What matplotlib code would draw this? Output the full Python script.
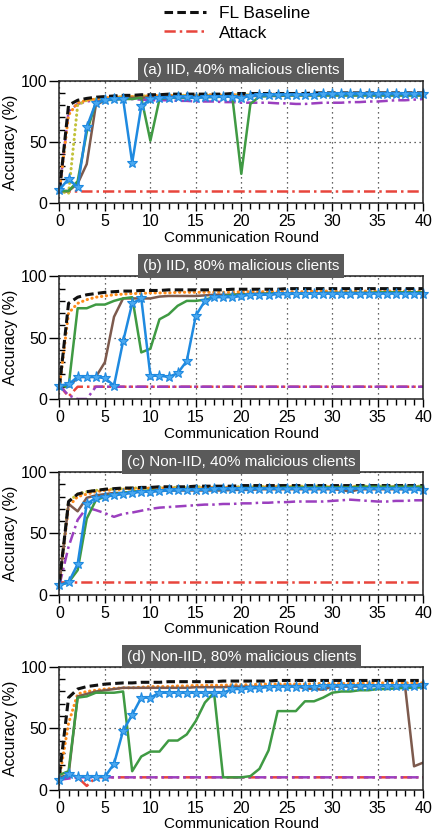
import matplotlib
matplotlib.use("Agg")
import matplotlib.pyplot as plt
from matplotlib.lines import Line2D

plt.rcParams['font.family'] = ['Liberation Sans', 'DejaVu Sans']

rounds = list(range(41))

panel_titles = [
    "(a) IID, 40% malicious clients",
    "(b) IID, 80% malicious clients",
    "(c) Non-IID, 40% malicious clients",
    "(d) Non-IID, 80% malicious clients",
]
legend_labels = ["FL Baseline", "Attack"]

# ---- (a) IID, 40% malicious ----
base_a = [10, 80, 84, 85.5, 86.5, 87, 87.5, 88, 88, 88.5, 88.5, 88.5, 89, 89, 89, 89, 89, 89, 89, 89.5,
          89.5, 89.5, 89.5, 89.5, 89.5, 89.5, 89.5, 89.5, 90, 90, 90, 90, 90, 90, 90, 90, 90, 90, 90, 90, 90]
attack_a = [10, 10, 10, 10, 10, 10, 10, 10, 10, 10, 10, 10, 10, 10, 10, 10, 10, 10, 10, 10,
            10, 10, 10, 10, 10, 10, 10, 10, 10, 10, 10, 10, 10, 10, 10, 10, 10, 10, 10, 10, 10]
purple_a = [10, 75, 81, 83, 84, 84.5, 85, 85, 85, 84.5, 84, 84, 84, 83.5, 83.5, 83, 83, 83, 82.5, 82.5,
            82, 82, 82, 82, 81.5, 81.5, 81, 81, 81.5, 82, 82, 82, 82.5, 82.5, 83, 83, 83.5, 84, 84, 84.5, 85]
orange_a = [10, 72, 82, 84, 85, 86, 86.5, 87, 87, 87.5, 87.5, 88, 88, 88, 88, 88, 88.5, 88.5, 88.5, 88.5,
            88.5, 88.5, 88.5, 89, 89, 89, 89, 89, 89, 89, 89, 89, 89, 89, 89, 89, 89, 89, 89, 89, 89]
olive_a = [10, 8, 80, 84, 85, 86, 86.5, 87, 87, 87.5, 87.5, 87.5, 88, 88, 88, 88, 88, 88, 88, 88.5,
           88.5, 88.5, 88.5, 88.5, 88.5, 88.5, 88.5, 88.5, 88.5, 88.5, 88.5, 88.5, 88.5, 88.5, 88.5, 88.5, 88.5, 88.5, 88.5, 88.5, 88.5]
brown_a = [10, 10, 16, 32, 80, 84, 85, 85.5, 86, 86, 86.5, 86.5, 87, 87, 87, 87, 87, 87, 87, 87,
           87.5, 87.5, 87.5, 87.5, 87.5, 88, 88, 88, 88, 88, 88, 88, 88, 88, 88, 88, 88, 88, 88, 88, 88]
green_a = [10, 10, 18, 58, 82, 84, 84.5, 85, 85, 86, 51, 85, 86, 86, 86, 86, 86.5, 86.5, 87, 87.5,
           24, 81, 87, 87.5, 88, 88, 88, 88, 88, 88, 88, 88, 88, 88, 88, 88, 88, 88, 88, 88, 88]
blue_a = [11, 20, 13, 62, 82, 84, 85, 85, 33, 79, 85, 86, 86, 86.5, 86.5, 86, 86.5, 87, 87, 87,
          86, 87.5, 88, 88, 88.5, 88.5, 88.5, 88.5, 88.5, 89, 89, 89, 89, 89, 89, 89, 89, 89, 89, 89, 89]

# ---- (b) IID, 80% malicious ----
base_b = [10, 78, 83, 85, 86, 87, 87.5, 88, 88, 88.5, 88.5, 88.5, 89, 89, 89, 89, 89, 89, 89, 89.5,
          89.5, 89.5, 89.5, 89.5, 89.5, 90, 90, 90, 90, 90, 90, 90, 90, 90, 90, 90, 90, 90, 90, 90, 90]
attack_b = [11, 2, 10, 10, 10, 10, 10, 10, 10, 10, 10, 10, 10, 10, 10, 10, 10, 10, 10, 10,
            10, 10, 10, 10, 10, 10, 10, 10, 10, 10, 10, 10, 10, 10, 10, 10, 10, 10, 10, 10, 10]
purple_b = [11, 3, 0, 0, 10, 10, 10, 10, 10, 10, 10, 10, 10, 10, 10, 10, 10, 10, 10, 10,
            10, 10, 10, 10, 10, 10, 10, 10, 10, 10, 10, 10, 10, 10, 10, 10, 10, 10, 10, 10, 10]
orange_b = [10, 70, 78, 81, 83, 84, 85, 85.5, 86, 86, 86.5, 86.5, 86.5, 87, 87, 87, 87, 87, 87, 87,
            87.5, 87.5, 87.5, 87.5, 87.5, 87.5, 87.5, 87.5, 88, 88, 88, 88, 88, 88, 88, 88, 88, 88, 88, 88, 88]
brown_b = [11, 10, 18, 18, 18, 30, 67, 82, 82, 82, 82, 83.5, 84, 84, 84, 84, 84.5, 85, 85, 85,
           85.5, 85.5, 86, 86, 86, 86, 86, 86, 86, 86.5, 86.5, 86.5, 86.5, 86.5, 86.5, 86.5, 87, 87, 87, 87, 87]
green_b = [11, 10, 74, 74, 77, 77, 80, 82, 83, 38, 41, 65, 69, 76, 80, 80, 81, 83, 84, 85,
           85, 85.5, 85.5, 86, 86, 86, 86, 86, 86, 86.5, 86.5, 86.5, 86.5, 86.5, 86.5, 87, 87, 87, 87, 87, 87]
blue_b = [11, 12, 18, 18, 18, 17, 11, 47, 78, 82, 19, 19, 18, 21, 31, 68, 80, 83, 83, 83,
          84, 85, 85, 85, 85.5, 85.5, 86, 86, 86, 86, 86, 86, 86, 86, 86, 86, 86, 86, 86, 86, 86]

# ---- (c) Non-IID, 40% malicious ----
base_c = [10, 76, 82, 84, 85, 86, 86.5, 87, 87, 87.5, 87.5, 88, 88, 88, 88, 88.5, 88.5, 88.5, 88.5, 88.5,
          89, 89, 89, 89, 89, 89, 89, 89, 89, 89, 89, 89, 89, 89, 89, 89, 89, 89, 89, 89, 89]
attack_c = [10, 10, 10, 10, 10, 10, 10, 10, 10, 10, 10, 10, 10, 10, 10, 10, 10, 10, 10, 10,
            10, 10, 10, 10, 10, 10, 10, 10, 10, 10, 10, 10, 10, 10, 10, 10, 10, 10, 10, 10, 10]
purple_c = [8, 39, 61, 71, 69, 66.5, 63.5, 66, 67, 68.5, 70, 71, 71.5, 72, 72.5, 73, 73.5, 73.5, 74, 74,
            74.5, 74.5, 75, 75, 75.5, 75.5, 76, 76, 76, 76, 76.5, 77, 77.5, 77, 76.5, 76, 76, 76.5, 76.5, 77, 77]
orange_c = [10, 72, 80, 82, 84, 85, 85.5, 86, 86.5, 86.5, 87, 87, 87, 87, 87, 87, 87.5, 87.5, 87.5, 87.5,
            87.5, 87.5, 88, 88, 88, 88, 88, 88, 88, 88, 88, 88, 88, 88, 88, 88, 88, 88, 88, 88, 88]
olive_c = [10, 76, 82, 84, 85, 86, 86, 86.5, 87, 87, 87, 87.5, 87.5, 87.5, 87.5, 88, 88, 88, 88, 88,
           88, 88, 88, 88.5, 88.5, 88.5, 88.5, 88.5, 88.5, 88.5, 88.5, 88.5, 88.5, 88.5, 88.5, 88.5, 88.5, 88.5, 88.5, 88.5, 88.5]
brown_c = [10, 74, 68, 79, 81, 82, 83, 83, 84, 84, 84.5, 84.5, 85, 85, 85, 85, 85, 85, 85, 85.5,
           85.5, 85.5, 86, 86, 86, 86, 86, 86, 86, 86, 86, 85.5, 84, 86, 86, 86, 86, 86, 86, 86, 86]
green_c = [8, 10, 20, 62, 77, 80, 82, 83, 84, 84.5, 85, 85, 85.5, 85.5, 86, 86, 86, 86, 86.5, 86.5,
           87, 87, 87, 87, 87, 87.5, 87.5, 87.5, 87.5, 87.5, 87.5, 87.5, 87.5, 88, 88, 88, 88, 88, 88, 88, 88]
blue_c = [8, 10, 25, 74, 79, 80, 81, 82, 83, 84, 84, 84.5, 85, 85, 85.5, 85.5, 85.5, 86, 86, 86,
          86, 86, 86.5, 86.5, 86.5, 86.5, 86.5, 86.5, 86.5, 86.5, 86.5, 86.5, 86.5, 86.5, 86.5, 86.5, 86.5, 86.5, 86, 86, 85]

# ---- (d) Non-IID, 80% malicious ----
base_d = [12, 75, 82, 84, 85, 86, 86.5, 87, 87, 87.5, 87.5, 87.5, 88, 88, 88, 88, 88, 88, 88.5, 88.5,
          88.5, 88.5, 88.5, 88.5, 89, 89, 89, 89, 89, 89, 89, 89, 89, 89, 89, 89, 89, 89, 89, 89, 89]
attack_d = [10, 10, 10, 3, 10, 10, 10, 10, 10, 10, 10, 10, 10, 10, 10, 10, 10, 10, 10, 10,
            10, 10, 10, 10, 10, 10, 10, 10, 10, 10, 10, 10, 10, 10, 10, 10, 10, 10, 10, 10, 10]
purple_d = [8, 9, 10, 10, 10, 10, 10, 10, 10, 10, 10, 10, 10, 10, 10, 10, 10, 10, 10, 10,
            10, 10, 10, 10, 10, 10, 10, 10, 10, 10, 10, 10, 10, 10, 10, 10, 10, 10, 10, 10, 10]
orange_d = [10, 54, 78, 80, 81, 82, 82.5, 83, 83, 83.5, 84, 84, 84, 84.5, 84.5, 85, 85, 85, 85, 85.5,
            85.5, 85.5, 86, 86, 86, 86, 86, 86, 86.5, 86.5, 86.5, 86.5, 86.5, 86.5, 87, 87, 87, 87, 87, 87, 87]
brown_d = [10, 12, 76, 78, 80, 81, 82, 83, 83, 83, 83, 83, 83, 83, 83, 83.5, 83.5, 83.5, 83.5, 84,
           84, 84, 84, 84, 84.5, 84.5, 84.5, 82.5, 82, 81.5, 84, 84, 84, 84, 84.5, 84.5, 84.5, 84.5, 85, 19, 22]
green_d = [12, 15, 75, 76, 79, 79, 79, 80, 15, 27, 31, 31, 40, 40, 45, 56, 71, 79, 10, 10,
           10, 11, 17, 32, 64, 64, 64, 72, 72, 75, 79, 80, 80, 81, 81, 82, 82, 82.5, 83, 83, 83.5]
blue_d = [8, 12.5, 10.5, 10.5, 10.5, 10.5, 21, 48, 61, 75, 75, 79, 79, 79, 79, 79, 79, 79, 79, 82,
          82, 82.5, 83, 83.5, 84, 84, 84, 84, 84, 84.5, 84.5, 84.5, 84.5, 84.5, 84.5, 84.5, 84.5, 84.5, 84.5, 84.5, 85]

panels = [
    dict(base=base_a, attack=attack_a, purple=purple_a, olive=olive_a, orange=orange_a,
         brown=brown_a, green=green_a, blue=blue_a),
    dict(base=base_b, attack=attack_b, purple=purple_b, olive=None, orange=orange_b,
         brown=brown_b, green=green_b, blue=blue_b),
    dict(base=base_c, attack=attack_c, purple=purple_c, olive=olive_c, orange=orange_c,
         brown=brown_c, green=green_c, blue=blue_c),
    dict(base=base_d, attack=attack_d, purple=purple_d, olive=None, orange=orange_d,
         brown=brown_d, green=green_d, blue=blue_d),
]

C_BASE = '#111111'
C_ATTACK = '#e8453c'
C_PURPLE = '#9b3fbf'
C_OLIVE = '#c2c23a'
C_ORANGE = '#ff8c1a'
C_BROWN = '#7d5a4d'
C_GREEN = '#3f9a43'
C_BLUE = '#1f8ae0'

LS_DASHDOT = (0, (4.5, 1.6, 1, 1.6))
LS_DOT = (0, (0.1, 1.5))
LS_DASH = (0, (2.8, 1.4))

fig = plt.figure(figsize=(4.34, 8.4), dpi=100)
left, width, height = 0.137, 0.838, 0.146
bottoms = [0.758, 0.525, 0.292, 0.060]

for d, bottom, title in zip(panels, bottoms, panel_titles):
    ax = fig.add_axes([left, bottom, width, height])
    lw = 1.8
    ax.plot(rounds, d['attack'], color=C_ATTACK, lw=lw, ls=LS_DASHDOT)
    ax.plot(rounds, d['purple'], color=C_PURPLE, lw=lw, ls=LS_DASHDOT)
    if d['olive'] is not None:
        ax.plot(rounds, d['olive'], color=C_OLIVE, lw=2.2, ls=LS_DOT, dash_capstyle='round')
    ax.plot(rounds, d['orange'], color=C_ORANGE, lw=2.2, ls=LS_DOT, dash_capstyle='round')
    ax.plot(rounds, d['brown'], color=C_BROWN, lw=lw)
    ax.plot(rounds, d['base'], color=C_BASE, lw=2.2, ls=LS_DASH)
    ax.plot(rounds, d['green'], color=C_GREEN, lw=lw)
    ax.plot(rounds, d['blue'], color=C_BLUE, lw=lw, marker='*', markersize=8,
            markerfacecolor='#4aa8f0', markeredgecolor=C_BLUE, markeredgewidth=0.8,
            clip_on=False)

    ax.set_xlim(0, 40)
    ax.set_ylim(0, 100)
    ax.set_xticks(range(0, 41, 5))
    ax.set_xticks(range(0, 41), minor=True)
    ax.set_yticks([0, 50, 100])
    ax.set_yticks(range(0, 101, 10), minor=True)
    ax.tick_params(axis='x', which='major', direction='out', length=6, width=1, labelsize=11.5, pad=2)
    ax.tick_params(axis='x', which='minor', direction='out', length=4, width=1)
    ax.tick_params(axis='y', which='major', direction='out', length=7, width=1, labelsize=11.5, pad=2)
    ax.tick_params(axis='y', which='minor', direction='in', length=4, width=1)
    ax.grid(True, which='major', ls=(0, (1, 3)), color='#333333', lw=0.9)
    for s in ax.spines.values():
        s.set_linewidth(1.1)
        s.set_color('#222222')
    ax.set_xlabel("Communication Round", fontsize=11, labelpad=1)
    ax.set_ylabel("Accuracy (%)", fontsize=11.5, labelpad=2)
    ax.text(0.5, 1.085, title, transform=ax.transAxes, ha='center', va='center',
            color='white', fontsize=11,
            bbox=dict(boxstyle='square,pad=0.32', fc='#5a5a5a', ec='none'))

handles = [
    Line2D([], [], color=C_BASE, lw=2.2, ls=LS_DASH),
    Line2D([], [], color=C_ATTACK, lw=1.8, ls=LS_DASHDOT),
]
fig.legend(handles, legend_labels, loc='upper left', bbox_to_anchor=(0.378, 0.993),
           frameon=False, fontsize=12.5, handlelength=2.4, handletextpad=0.75,
           labelspacing=0.25, borderpad=0, borderaxespad=0)

fig.savefig("out.png", dpi=100)
